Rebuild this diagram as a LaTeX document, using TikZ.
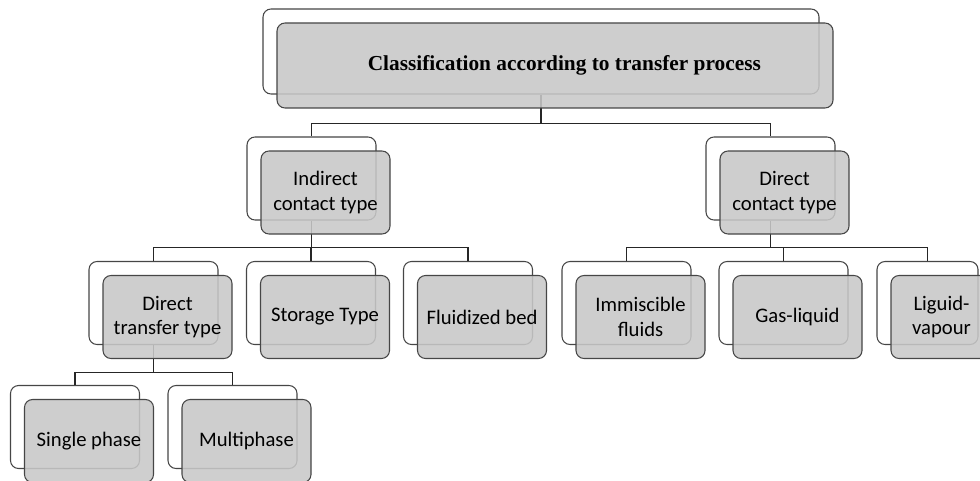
\documentclass[tikz,border=0pt]{standalone}
\usepackage{fontspec}
\setmainfont{Carlito}
\newfontfamily\titlefont{Liberation Serif}
\definecolor{boxgray}{RGB}{200,200,200}
\definecolor{edgegray}{RGB}{70,70,70}

\tikzset{
  back/.style={draw=edgegray, fill=white, line width=0.8pt, rounded corners=6pt,
    minimum width=96.75pt, minimum height=62.25pt, inner sep=0pt},
  front/.style={back, fill=boxgray, fill opacity=0.88, text opacity=1,
    xshift=10.5pt, yshift=-10.5pt, align=center,
    font=\fontsize{15.5}{18.5}\selectfont},
  wide/.style={minimum width=417pt, minimum height=63.75pt},
  narrow/.style={minimum width=75.75pt},
  link/.style={draw=black!85, line width=0.8pt},
}

\begin{document}
\begin{tikzpicture}[x=0.75pt, y=-0.75pt]
		\clip (0,0) rectangle (980,481);
		
		% back layer
		\node[back, wide] (cls) at (541,51.5) {};
		\node[back] (ind) at (311.5,178.5) {};
		\node[back] (dct) at (770.5,178.5) {};
		\node[back] (dtt) at (153.5,303) {};
		\node[back] (sto) at (311,303) {};
		\node[back] (flu) at (468,303) {};
		\node[back] (imm) at (626.5,303) {};
		\node[back] (gas) at (783.5,303) {};
		\node[back, narrow] (liq) at (927.5,303) {};
		\node[back] (sgl) at (75,427) {};
		\node[back] (mul) at (232.5,427) {};
		
		% connectors
		\draw[link] (cls.south) -- ++(0,29) -| (ind.north);
		\draw[link] (cls.south) -- ++(0,29) -| (dct.north);
		\draw[link] (ind.south) -- ++(0,27) -| (dtt.north);
		\draw[link] (ind.south) -- ++(0,27) -| (sto.north);
		\draw[link] (ind.south) -- ++(0,27) -| (flu.north);
		\draw[link] (dct.south) -- ++(0,27) -| (imm.north);
		\draw[link] (dct.south) -- ++(0,27) -| (gas.north);
		\draw[link] (dct.south) -- ++(0,27) -| (liq.north);
		\draw[link] (dtt.south) -- ++(0,27) -| (sgl.north);
		\draw[link] (dtt.south) -- ++(0,27) -| (mul.north);
		
		% front layer
		\node[front, wide, font=\titlefont\bfseries\fontsize{16}{19}\selectfont] (clsT) at (cls) {\hspace{14pt}Classification according to transfer process};
		\node[front] (indT) at (ind) {Indirect\\contact type};
		\node[front] (dctT) at (dct) {Direct\\contact type};
		\node[front] (dttT) at (dtt) {Direct\\transfer type};
		\node[front] (stoT) at (sto) {Storage Type};
		\node[front] (fluT) at (flu) {Fluidized bed};
		\node[front] (immT) at (imm) {Immiscible\\fluids};
		\node[front] (gasT) at (gas) {Gas-liquid};
		\node[front, narrow] (liqT) at (liq) {Liguid-\\vapour};
		\node[front] (sglT) at (sgl) {Single phase};
		\node[front] (mulT) at (mul) {Multiphase};
	\end{tikzpicture}
\end{document}
